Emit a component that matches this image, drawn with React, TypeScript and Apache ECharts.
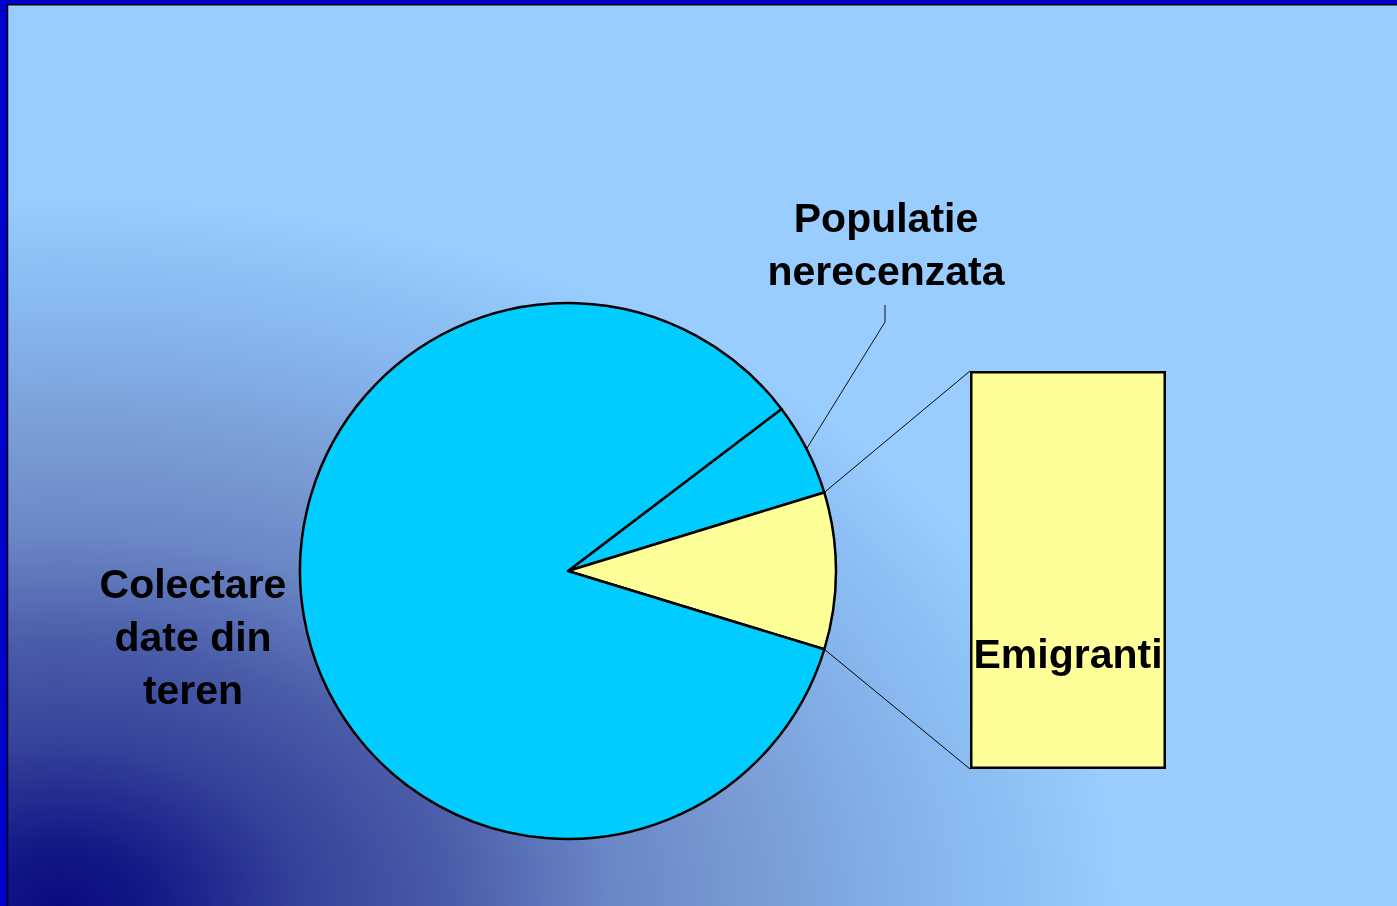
import React, { useEffect, useRef } from "react";
import * as echarts from "echarts";

// ---- data ----
const pieCategories = ["Populatie nerecenzata", "Emigranti", "Colectare date din teren"];
const pieLabels = ["Populatie\nnerecenzata", "Emigranti", "Colectare\ndate din\nteren"];
const pieValues = [5.6, 9.45, 84.95];
const pieColors = ["#00CCFF", "#FFFF99", "#00CCFF"];
const barCategories = ["Emigranti"];
const barValues = [9.45];

// ---- layout ----
const W = 1397;
const H = 906;
const CX = 568;
const CY = 571;
const R = 268;
const START = 37.2;
const GRID = { left: 970, top: 371, width: 196, height: 398 };
const FONT = { fontFamily: "Liberation Sans, Arial, sans-serif", fontWeight: "bold" as const, fontSize: 41, lineHeight: 53, color: "#000" };
const SY = 0.67;

export default function App() {
  const ref = useRef<HTMLDivElement>(null);
  useEffect(() => {
    const el = ref.current!;
    const chart = echarts.init(el, null, { renderer: "svg", width: W, height: H });
    const total = pieValues.reduce((a, b) => a + b, 0);
    const bounds: number[] = [START];
    pieValues.forEach((v) => bounds.push(bounds[bounds.length - 1] - (360 * v) / total));
    const pt = (deg: number) => {
      const r = (deg * Math.PI) / 180;
      return [CX + R * Math.cos(r), CY - R * Math.sin(r)];
    };
    const emi = pieCategories.indexOf("Emigranti");
    const eTop = pt(bounds[emi]);
    const eBot = pt(bounds[emi + 1]);
    const popMid = pt((bounds[0] + bounds[1]) / 2);
    const labelPos: (number[] | null)[] = [[886, 244], null, [193, 637]];

    const bgStops = [
      { offset: 0, color: "#0a0a80" },
      { offset: 0.09, color: "#141a86" },
      { offset: 0.23, color: "#36429a" },
      { offset: 0.37, color: "#4a5ca8" },
      { offset: 0.52, color: "#6a86c6" },
      { offset: 0.66, color: "#7a9cd4" },
      { offset: 0.8, color: "#84b2ea" },
      { offset: 0.9, color: "#8cc0f4" },
      { offset: 1, color: "#99ccff" },
    ];

    chart.setOption({
      animation: false,
      graphic: [
        { type: "rect", z: -10, shape: { x: 0, y: 0, width: W, height: H }, style: { fill: "#99CCFF" }, silent: true },
        {
          type: "rect",
          z: -9,
          x: 0,
          y: 0,
          scaleY: SY,
          shape: { x: 0, y: 0, width: W, height: H / SY },
          style: { fill: { type: "radial", x: 60, y: H / SY, r: 1060, global: true, colorStops: bgStops } },
          silent: true,
        },
        { type: "rect", z: -8, shape: { x: 0, y: 0, width: 7, height: H }, style: { fill: "#0000CC" }, silent: true },
        { type: "rect", z: -8, shape: { x: 0, y: 0, width: W, height: 4 }, style: { fill: "#0000CC" }, silent: true },
        { type: "line", z: -7, shape: { x1: 7.5, y1: 4, x2: 7.5, y2: H }, style: { stroke: "#000", lineWidth: 1.5 }, silent: true },
        { type: "line", z: -7, shape: { x1: 7, y1: 4.75, x2: W, y2: 4.75 }, style: { stroke: "#000", lineWidth: 1.5 }, silent: true },
        { type: "line", z: -5, shape: { x1: eTop[0], y1: eTop[1], x2: GRID.left, y2: GRID.top }, style: { stroke: "#000", lineWidth: 1 }, silent: true },
        { type: "line", z: -5, shape: { x1: eBot[0], y1: eBot[1], x2: GRID.left, y2: GRID.top + GRID.height }, style: { stroke: "#000", lineWidth: 1 }, silent: true },
        {
          type: "polyline",
          z: -5,
          shape: { points: [popMid, [885, 322], [885, 305]] },
          style: { stroke: "#111", lineWidth: 1, fill: null },
          silent: true,
        },
      ],
      grid: { ...GRID, containLabel: false },
      xAxis: { type: "category", data: barCategories, show: false },
      yAxis: { type: "value", min: 0, max: barValues[0], show: false },
      series: [
        {
          type: "pie",
          center: [CX, CY],
          radius: R,
          startAngle: START,
          clockwise: true,
          avoidLabelOverlap: false,
          silent: true,
          emphasis: { disabled: true },
          itemStyle: { borderColor: "#000", borderWidth: 2.5 },
          data: pieValues.map((v, i) => ({
            name: pieCategories[i],
            value: v,
            itemStyle: { color: pieColors[i] },
            label: { show: i !== emi },
          })),
          label: {
            show: true,
            position: "outside",
            formatter: (p: any) => pieLabels[p.dataIndex],
            ...FONT,
          },
          labelLine: { show: false },
          labelLayout: (p: any) => {
            const lp = labelPos[p.dataIndex];
            if (!lp) return {};
            return { x: lp[0], y: lp[1], align: "center", verticalAlign: "middle" };
          },
        },
        {
          type: "bar",
          data: barValues,
          barWidth: "100%",
          silent: true,
          itemStyle: { color: "#FFFF99", borderColor: "#000", borderWidth: 2.5 },
          label: {
            show: true,
            formatter: "{b}",
            position: ["50%", "71%"],
            align: "center",
            verticalAlign: "middle",
            ...FONT,
          },
        },
      ],
    });
    return () => chart.dispose();
  }, []);
  return <div ref={ref} style={{ position: "fixed", left: 0, top: 0, width: W, height: H }} />;
}
